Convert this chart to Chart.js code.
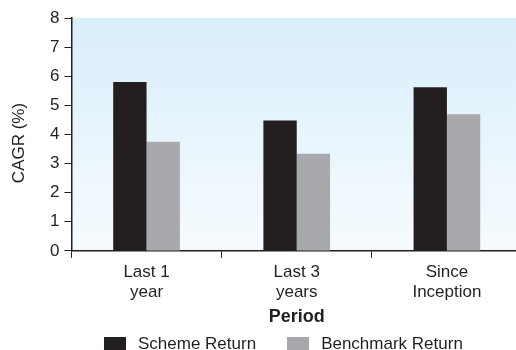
<!DOCTYPE html>
<html>
<head>
<meta charset="utf-8">
<script src="https://cdn.jsdelivr.net/npm/chart.js@4.4.1/dist/chart.umd.min.js"></script>
<style>
  html, body { margin: 0; padding: 0; overflow: hidden; background: #fff; }
  #wrap { position: relative; width: 516px; height: 350px; overflow: hidden; }
  #c { position: absolute; left: 0; top: 0; }
  #legend {
    position: absolute; left: 104px; top: 335px;
    display: flex; gap: 31px; white-space: nowrap;
    font: 17px "Liberation Sans", Arial, sans-serif; line-height: 17px; color: #231F20;
  }
  #legend .item { display: flex; align-items: flex-start; }
  #legend .box { width: 22px; height: 13px; margin-top: 2px; margin-right: 12px; }
</style>
</head>
<body>
<div id="wrap">
  <canvas id="c" width="522" height="350"></canvas>
  <div id="legend"></div>
</div>
<script>
// Periods (multi-line category labels)
const periods = [['Last 1', 'year'], ['Last 3', 'years'], ['Since', 'Inception']];
// CAGR values in percent
const schemeReturn = [5.8, 4.48, 5.62];
const benchmarkReturn = [3.75, 3.34, 4.69];
// Value axis range
const yMin = 0;
const yMax = 8;
const yStep = 1;

const seriesNames = ['Scheme Return', 'Benchmark Return'];
const seriesColors = ['#231F20', '#A7A9AC'];
const ink = '#231F20';
const fontFamily = '"Liberation Sans", Arial, Helvetica, sans-serif';

Chart.defaults.font.family = fontFamily;
Chart.defaults.font.size = 17;
Chart.defaults.color = ink;

// Soft blue-to-white fill behind the plot area
const plotBackground = {
  id: 'plotBackground',
  beforeDraw(chart) {
    const { ctx, chartArea: a } = chart;
    const g = ctx.createLinearGradient(0, a.top, 0, a.bottom);
    g.addColorStop(0, '#D9EEFA');
    g.addColorStop(1, '#F6FBFE');
    ctx.save();
    ctx.fillStyle = g;
    ctx.fillRect(a.left, a.top, a.right - a.left, a.bottom - a.top);
    ctx.restore();
  }
};

// Rotated value-axis caption
const yCaption = {
  id: 'yCaption',
  afterDraw(chart) {
    const { ctx } = chart;
    ctx.save();
    ctx.translate(19, 143);
    ctx.rotate(-Math.PI / 2);
    ctx.font = '17px ' + fontFamily;
    ctx.fillStyle = ink;
    ctx.textAlign = 'center';
    ctx.textBaseline = 'middle';
    ctx.fillText('CAGR (%)', 0, 0);
    ctx.restore();
  }
};

const chart = new Chart(document.getElementById('c'), {
  type: 'bar',
  data: {
    labels: periods,
    datasets: [
      { label: seriesNames[0], data: schemeReturn, backgroundColor: seriesColors[0] },
      { label: seriesNames[1], data: benchmarkReturn, backgroundColor: seriesColors[1] }
    ]
  },
  options: {
    responsive: false,
    animation: false,
    layout: { padding: { left: 45, top: 18, right: 0, bottom: 22 } },
    datasets: { bar: { categoryPercentage: 0.444, barPercentage: 1.0, borderWidth: 0 } },
    plugins: {
      legend: { display: false },
      tooltip: { enabled: false }
    },
    scales: {
      x: {
        grid: { drawOnChartArea: false, drawTicks: true, tickLength: 7, color: ink, lineWidth: 1 },
        border: { display: true, color: ink, width: 1.5 },
        ticks: { padding: 4, color: ink, font: { size: 17, lineHeight: 20 / 17 }, maxRotation: 0 },
        title: {
          display: true, text: 'Period', color: ink,
          font: { size: 18, weight: 'bold', lineHeight: 1.2 },
          padding: { top: 0.5, bottom: 0 }
        }
      },
      y: {
        min: yMin, max: yMax,
        grid: { drawOnChartArea: false, drawTicks: true, tickLength: 7, color: ink, lineWidth: 1 },
        border: { display: true, color: ink, width: 1.5 },
        ticks: { stepSize: yStep, padding: 5, color: ink, font: { size: 17 } }
      }
    }
  },
  plugins: [plotBackground, yCaption]
});

// Legend built from the chart's datasets
const legendEl = document.getElementById('legend');
chart.data.datasets.forEach(ds => {
  const item = document.createElement('div');
  item.className = 'item';
  const box = document.createElement('span');
  box.className = 'box';
  box.style.background = ds.backgroundColor;
  const txt = document.createElement('span');
  txt.textContent = ds.label;
  item.appendChild(box);
  item.appendChild(txt);
  legendEl.appendChild(item);
});
</script>
</body>
</html>
